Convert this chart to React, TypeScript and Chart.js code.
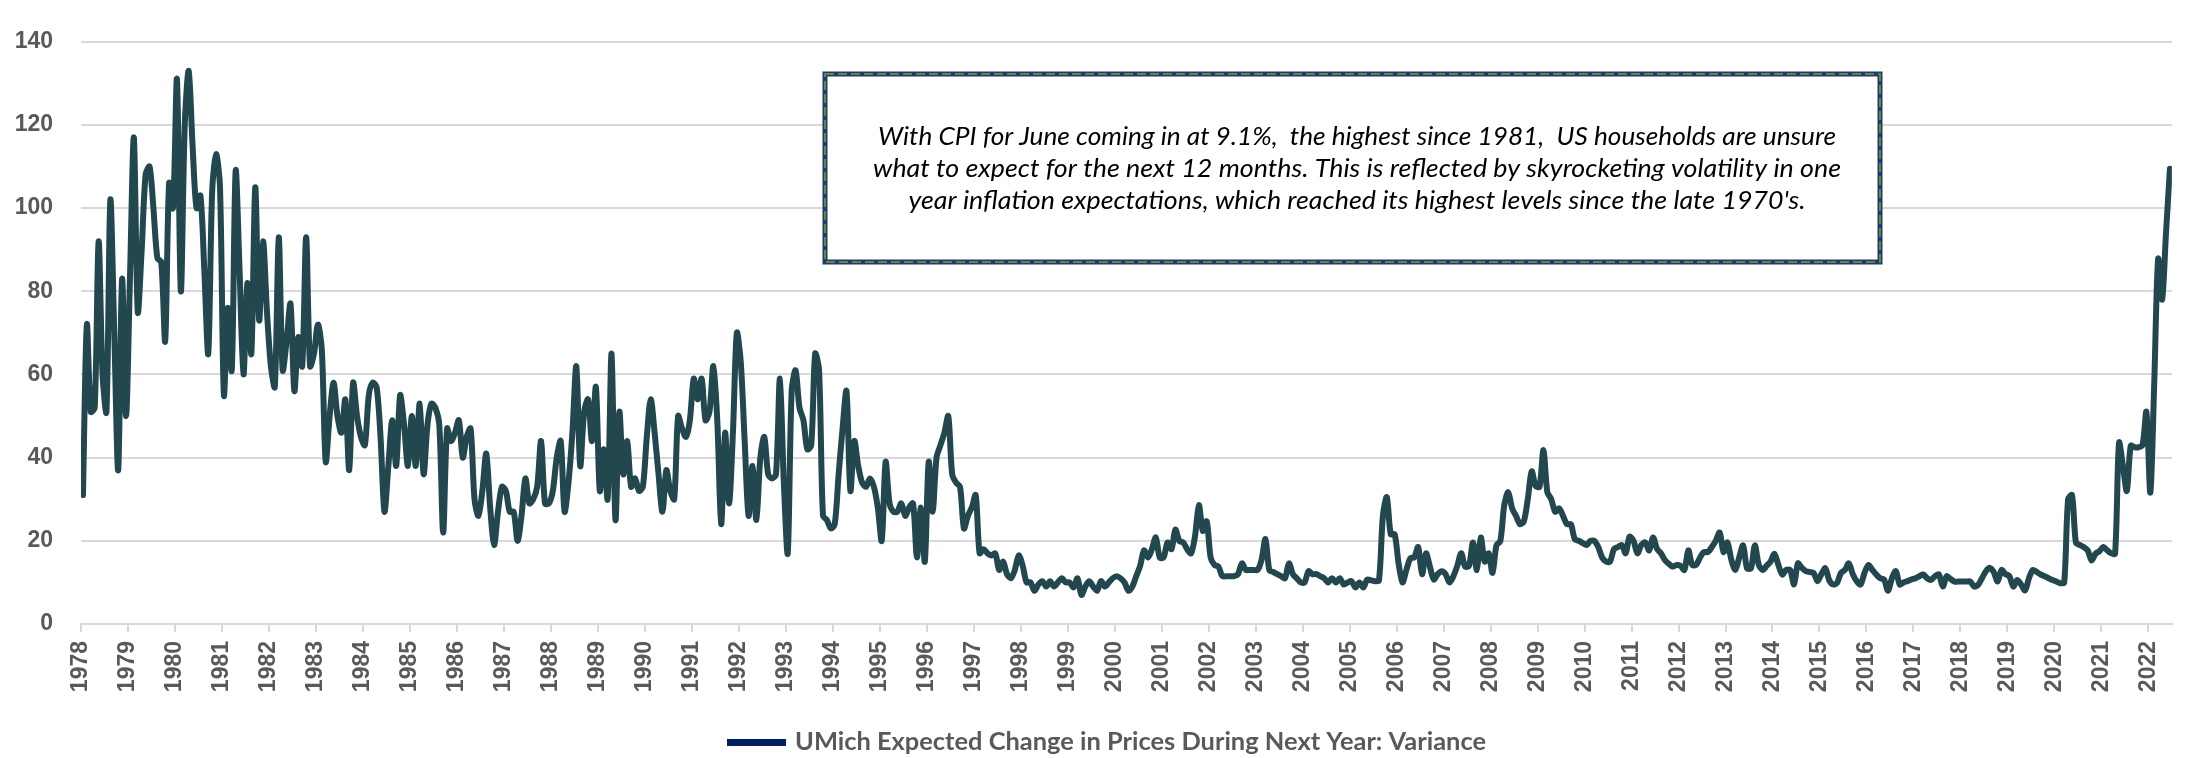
import React, { useEffect, useRef } from "react";
import { Chart, registerables } from "chart.js";

Chart.register(...registerables);

// ---------- DATA (monthly values) ----------
const startYear = 1978;
const v1978 = [31, 72, 51, 52, 92, 60, 51, 102, 70, 37, 83, 50];
const v1979 = [83, 117, 75, 90, 108, 110, 100, 88, 87, 68, 106, 100];
const v1980 = [131, 80, 120, 133, 115, 100, 103, 85, 65, 104, 113, 105];
const v1981 = [55, 76, 61, 109, 85, 60, 82, 65, 105, 73, 92, 75];
const v1982 = [62, 57, 93, 61, 68, 77, 56, 69, 62, 93, 62, 65];
const v1983 = [72, 66, 39, 50, 58, 50, 46, 54, 37, 58, 50, 45];
const v1984 = [43, 55, 58, 57, 45, 27, 38, 49, 38, 55, 48, 38];
const v1985 = [50, 38, 53, 36, 48, 53, 52, 48, 22, 47, 44, 46];
const v1986 = [49, 40, 45, 47, 30, 26, 32, 41, 28, 19, 27, 33];
const v1987 = [32, 27, 27, 20, 26, 35, 29, 30, 33, 44, 29, 29];
const v1988 = [32, 40, 44, 27, 34, 46, 62, 38, 51, 54, 44, 57];
const v1989 = [32, 42, 30, 65, 25, 51, 36, 44, 33, 35, 32, 33];
const v1990 = [45, 54, 46, 36, 27, 37, 32, 30, 50, 47, 45, 49];
const v1991 = [59, 54, 59, 49, 51, 62, 49, 24, 46, 29, 46, 70];
const v1992 = [63, 44, 26, 38, 25, 40, 45, 36, 35, 36, 59, 34];
const v1993 = [17, 56, 61, 52, 49, 42, 43, 65, 61, 26, 25, 23];
const v1994 = [24, 36, 47, 56, 32, 44, 38, 34, 33, 35, 33, 28];
const v1995 = [20, 39, 29, 27, 27, 29, 26, 28, 29, 16, 28, 15];
const v1996 = [39, 27, 40, 43, 46, 50, 36, 34, 33, 23, 26, 28];
const v1997 = [31, 17, 18, 17, 16.5, 17, 13, 15, 12, 11, 13, 16.5];
const v1998 = [14, 10, 10, 8, 9.5, 10.3, 9, 10.3, 9, 10, 11, 10];
const v1999 = [10, 8.8, 11, 7, 9, 10.3, 9, 8, 10.3, 9, 10, 11];
const v2000 = [11.5, 11, 10, 8, 9, 11.5, 14, 17.7, 16, 18, 20.8, 16];
const v2001 = [16, 19.6, 18, 22.7, 20, 19.6, 18, 17, 21, 28.6, 22.4, 24.7];
const v2002 = [16, 14.2, 13.8, 11.5, 11.5, 11.5, 11.5, 12, 14.6, 13, 13, 13];
const v2003 = [13, 15.4, 20.4, 13, 12.5, 12, 11.5, 11, 14.6, 12, 11, 10];
const v2004 = [10, 12.7, 12, 12, 11.5, 11, 10, 11, 10, 11, 9.5, 10];
const v2005 = [10.3, 8.8, 10, 8.8, 10.7, 10.5, 10.3, 10.5, 26, 30.5, 21.6, 21.6];
const v2006 = [14.6, 10, 13, 15.8, 16, 18.5, 12, 17, 13.8, 10.7, 12, 12.7];
const v2007 = [12, 10, 11.5, 14, 17, 13.8, 14, 19.6, 13, 20.8, 15, 17];
const v2008 = [12.3, 18.9, 20, 28.6, 31.7, 27.8, 26, 24, 24.7, 30, 36.7, 33.2];
const v2009 = [33, 41.8, 31.7, 30, 27, 27.8, 26, 24, 24, 20.4, 20, 19.5];
const v2010 = [19, 20, 20, 18.5, 16, 15, 15, 18, 18.5, 19, 17, 21];
const v2011 = [20, 17, 19, 19.6, 17.7, 20.8, 18.1, 17, 15.4, 14.5, 13.8, 14.2];
const v2012 = [14, 13, 17.7, 14.2, 14.2, 16, 17.3, 17.3, 18.5, 20, 22, 17.3];
const v2013 = [19.6, 15.4, 13, 16, 18.9, 13.4, 13.4, 18.9, 14.2, 13, 14, 15];
const v2014 = [16.9, 14.2, 11.9, 13, 13, 9.5, 14.6, 13.5, 12.7, 12.5, 12.3, 10.3];
const v2015 = [12, 13.4, 10.5, 9.5, 9.9, 12.3, 13, 14.6, 12, 10.3, 9.5, 12.3];
const v2016 = [14.2, 13, 11.9, 11, 10.7, 8, 11, 12.7, 9.5, 10, 10.3, 10.7];
const v2017 = [11, 11.5, 11.9, 11, 10.6, 11.5, 11.9, 9, 11.5, 10.8, 10.2, 10.2];
const v2018 = [10.2, 10.2, 10.2, 9, 9.4, 11, 12.7, 13.5, 12.5, 10.2, 13, 12];
const v2019 = [11.5, 9, 10.6, 9.5, 8.1, 11, 13, 12.5, 11.9, 11.5, 11, 10.6];
const v2020 = [10.2, 9.8, 10, 30, 31, 19.5, 19, 18.5, 17.7, 15.3, 16.9, 17.5];
const v2021 = [18.5, 17.7, 17, 16.9, 43.6, 38, 32, 42.9, 42.5, 42.5, 43, 51];
const v2022 = [31.6, 58, 87.8, 78, 94, 109.5];

const yearValues = [
  v1978, v1979, v1980, v1981, v1982, v1983, v1984, v1985, v1986, v1987,
  v1988, v1989, v1990, v1991, v1992, v1993, v1994, v1995, v1996, v1997,
  v1998, v1999, v2000, v2001, v2002, v2003, v2004, v2005, v2006, v2007,
  v2008, v2009, v2010, v2011, v2012, v2013, v2014, v2015, v2016, v2017,
  v2018, v2019, v2020, v2021, v2022,
];

const yearTicks = yearValues.map((_, i) => startYear + i);
const yTicks = [0, 20, 40, 60, 80, 100, 120, 140];
const seriesLabel = "UMich Expected Change in Prices During Next Year: Variance";
const noteLines = [
  "With CPI for June coming in at 9.1%,  the highest since 1981,  US households are unsure",
  "what to expect for the next 12 months. This is reflected by skyrocketing volatility in one",
  "year inflation expectations, which reached its highest levels since the late 1970's.",
];

// ---------- STYLE ----------
const LINE_COLOR = "#23474E";
const GRID_COLOR = "#D9D9D9";
const LABEL_COLOR = "#595959";
const LEGEND_MARK = "#002060";
const TICK_FONT = { family: "'Liberation Sans', Arial, sans-serif", size: 23, weight: "bold" as const };

function buildPoints() {
  const pts: { x: number; y: number }[] = [];
  yearValues.forEach((arr, yi) => {
    arr.forEach((v, m) => {
      pts.push({ x: startYear + yi + (m + 0.5) / 12, y: v });
    });
  });
  return pts;
}

function drawFitted(
  ctx: CanvasRenderingContext2D,
  text: string,
  x: number,
  baseline: number,
  width: number,
  font: string,
  align: "center" | "left"
) {
  ctx.save();
  ctx.font = font;
  const w = ctx.measureText(text).width;
  ctx.translate(x, baseline);
  ctx.scale(width / w, 1);
  ctx.textAlign = align;
  ctx.textBaseline = "alphabetic";
  ctx.fillText(text, 0, 0);
  ctx.restore();
}

const overlayPlugin = {
  id: "overlay",
  afterDraw(chart: any) {
    const ctx: CanvasRenderingContext2D = chart.ctx;
    // ----- annotation box -----
    const bx = 825, by = 74, bw = 1055, bh = 188;
    ctx.save();
    ctx.fillStyle = "#ffffff";
    ctx.fillRect(bx, by, bw, bh);
    ctx.strokeStyle = "#1F3A6E";
    ctx.lineWidth = 5;
    ctx.setLineDash([]);
    ctx.strokeRect(bx, by, bw, bh);
    ctx.strokeStyle = "#5E8A3A";
    ctx.lineWidth = 2;
    ctx.setLineDash([9, 4]);
    ctx.strokeRect(bx, by, bw, bh);
    ctx.restore();

    ctx.save();
    ctx.fillStyle = "#000000";
    const font = "italic 25px Lato, 'Open Sans', sans-serif";
    const widths = [958, 968, 897];
    const baselines = [145, 177, 209];
    noteLines.forEach((t, i) => drawFitted(ctx, t, 1357, baselines[i], widths[i], font, "center"));
    ctx.restore();

    // ----- legend -----
    ctx.save();
    ctx.fillStyle = LEGEND_MARK;
    ctx.fillRect(727, 739, 59, 7);
    ctx.fillStyle = LABEL_COLOR;
    drawFitted(ctx, chart.data.datasets[0].label, 795, 750, 691, "bold 25px Lato, 'Open Sans', sans-serif", "left");
    ctx.restore();
  },
};

export default function App() {
  const canvasRef = useRef<HTMLCanvasElement | null>(null);

  useEffect(() => {
    document.body.style.margin = "0";
    const canvas = canvasRef.current;
    if (!canvas) return;
    const chart = new Chart(canvas, {
      type: "line",
      data: {
        datasets: [
          {
            label: seriesLabel,
            data: buildPoints(),
            borderColor: LINE_COLOR,
            backgroundColor: LINE_COLOR,
            borderWidth: 6,
            pointRadius: 0,
            pointHoverRadius: 0,
            tension: 0.3,
            borderJoinStyle: "round",
            borderCapStyle: "round",
            fill: false,
          },
        ],
      },
      options: {
        animation: false,
        responsive: false,
        devicePixelRatio: 1,
        parsing: false as any,
        layout: { padding: { top: 21, right: 2, left: 0, bottom: 0 } },
        plugins: {
          legend: { display: false },
          tooltip: { enabled: false },
        },
        scales: {
          x: {
            type: "linear",
            min: startYear,
            max: 2022.5,
            afterBuildTicks: (axis: any) => {
              axis.ticks = yearTicks.map((v) => ({ value: v }));
            },
            afterFit: (scale: any) => {
              scale.height = 134;
            },
            ticks: {
              autoSkip: false,
              maxRotation: 90,
              minRotation: 90,
              padding: 9,
              color: LABEL_COLOR,
              font: TICK_FONT,
              callback: (v: any) => String(v),
            },
            grid: {
              drawOnChartArea: false,
              drawTicks: true,
              tickLength: 8,
              color: GRID_COLOR,
              lineWidth: 2,
            },
            border: { display: true, color: GRID_COLOR, width: 2 },
          },
          y: {
            type: "linear",
            min: 0,
            max: 140,
            afterBuildTicks: (axis: any) => {
              axis.ticks = yTicks.map((v) => ({ value: v }));
            },
            afterFit: (scale: any) => {
              scale.width = 81;
            },
            ticks: {
              padding: 28,
              color: LABEL_COLOR,
              font: TICK_FONT,
              callback: (v: any) => String(v),
            },
            grid: { color: GRID_COLOR, lineWidth: 2, drawTicks: false },
            border: { display: false },
          },
        },
      },
      plugins: [overlayPlugin],
    } as any);
    return () => chart.destroy();
  }, []);

  return (
    <div style={{ width: 2185, height: 758, position: "relative", background: "#fff" }}>
      <canvas ref={canvasRef} width={2185} height={758} style={{ display: "block" }} />
    </div>
  );
}
